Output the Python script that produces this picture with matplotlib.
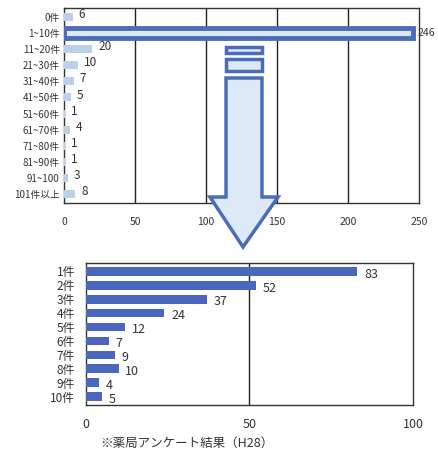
import matplotlib
matplotlib.use("Agg")
import matplotlib.pyplot as plt
from matplotlib.patches import Polygon, Rectangle
import numpy as np

plt.rcParams['font.family'] = ['Noto Sans CJK JP', 'DejaVu Sans']

# top chart: number of items per range
top_labels = ['0件', '1~10件', '11~20件', '21~30件', '31~40件', '41~50件', '51~60件',
              '61~70件', '71~80件', '81~90件', '91~100', '101件以上']
top_values = [6, 246, 20, 10, 7, 5, 1, 4, 1, 1, 3, 8]
top_ticks = [0, 50, 100, 150, 200, 250]

# bottom chart: breakdown of the 1~10 range
bot_labels = ['1件', '2件', '3件', '4件', '5件', '6件', '7件', '8件', '9件', '10件']
bot_values = [83, 52, 37, 24, 12, 7, 9, 10, 4, 5]
bot_ticks = [0, 50, 100]

W, H = 438, 450
fig = plt.figure(figsize=(W / 100, H / 100), dpi=100)

light = '#bcd0ec'
dark = '#4a67bd'
edge = '#4b6db8'
txt = '#333333'

# ---- top chart
ax1 = fig.add_axes([64 / W, 1 - 203 / H, (419 - 64) / W, (203 - 8) / H])
y1 = np.arange(len(top_values))
hi = top_values.index(max(top_values))
for i, v in enumerate(top_values):
    if i == hi:
        ax1.barh(i, v, height=0.62, color='#dbe8f6', edgecolor=edge, linewidth=3.5, zorder=4)
        ax1.text(v + 3, i, str(v), va='center', ha='left', fontsize=7.5, color=txt, zorder=5)
    else:
        ax1.barh(i, v, height=0.5, color=light, zorder=3)
        ax1.text(v + 4, i - 0.15, str(v), va='center', ha='left', fontsize=8.5, color=txt)
ax1.set_xlim(0, 250)
ax1.set_ylim(len(top_values) - 0.45, -0.55)
ax1.set_yticks(y1)
ax1.set_yticklabels(top_labels, fontsize=7, color=txt)
ax1.set_xticks(top_ticks)
ax1.set_xticklabels([str(t) for t in top_ticks], fontsize=7.5, color=txt)
ax1.tick_params(length=0, pad=10, axis='x')
ax1.tick_params(length=0, pad=3, axis='y')
for t in top_ticks[1:-1]:
    ax1.axvline(t, color='#222222', linewidth=1.0, zorder=1)
for s in ax1.spines.values():
    s.set_color('#333333')
    s.set_linewidth(1.0)

# ---- bottom chart
ax2 = fig.add_axes([86 / W, 1 - 405 / H, (413 - 86) / W, (405 - 263) / H])
y2 = np.arange(len(bot_values))
ax2.barh(y2, bot_values, height=0.62, color=dark, zorder=3)
for i, v in enumerate(bot_values):
    ax2.text(v + 2, i + 0.2, str(v), va='center', ha='left', fontsize=9, color=txt)
ax2.set_xlim(0, 100)
ax2.set_ylim(len(bot_values) - 0.4, -0.6)
ax2.set_yticks(y2)
ax2.set_yticklabels(bot_labels, fontsize=8.5, color=txt)
ax2.set_xticks(bot_ticks)
ax2.set_xticklabels([str(t) for t in bot_ticks], fontsize=9, color=txt)
ax2.tick_params(length=0, pad=9, axis='x')
ax2.tick_params(length=0, pad=8, axis='y')
ax2.axvline(50, color='#222222', linewidth=1.0, zorder=1)
for s in ax2.spines.values():
    s.set_color('#333333')
    s.set_linewidth(1.0)

fig.text(100 / W, 1 - 443 / H, '※薬局アンケート結果（H28）', fontsize=9, color=txt,
         va='center', ha='left')

# ---- arrow overlay (pixel coords)
ov = fig.add_axes([0, 0, 1, 1], zorder=10)
ov.set_xlim(0, W)
ov.set_ylim(H, 0)
ov.axis('off')
ov.patch.set_alpha(0)
fill = '#dde9f7'
ov.add_patch(Rectangle((226, 47), 36, 6, facecolor=fill, edgecolor=edge, linewidth=2.5))
ov.add_patch(Rectangle((226, 59), 36, 12, facecolor=fill, edgecolor=edge, linewidth=2.5))
ov.add_patch(Polygon([(226, 78), (262, 78), (262, 197), (278, 197), (243, 247),
                      (210, 197), (226, 197)], closed=True,
                     facecolor=fill, edgecolor=edge, linewidth=2.5))

fig.savefig('out.png', dpi=100)
